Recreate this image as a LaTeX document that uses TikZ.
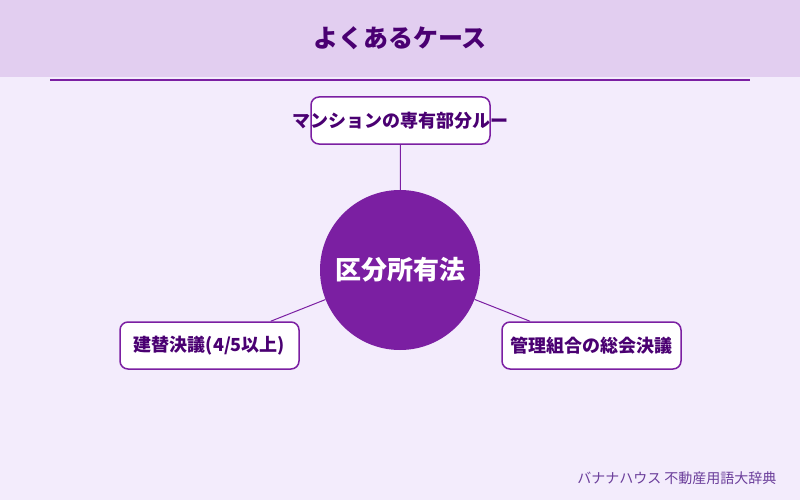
\documentclass[tikz,border=0pt]{standalone}
\usepackage{fontspec}
\newfontfamily\jp{Noto Sans CJK JP}
\definecolor{bgc}{HTML}{F3ECFC}
\definecolor{headc}{HTML}{E2CEF0}
\definecolor{mainp}{HTML}{7B1FA2}
\definecolor{darkp}{HTML}{4A0072}
\definecolor{footc}{HTML}{6A3D9A}
\tikzset{
  leaf/.style={draw=mainp, line width=1.5pt, fill=white, rounded corners=8pt,
    minimum width=179pt, minimum height=47pt, inner sep=0pt},
  leaftext/.style={inner sep=0pt, font=\jp\bfseries\fontsize{18}{20}\selectfont, text=darkp},
  hub/.style={circle, fill=mainp, minimum size=160pt, inner sep=0pt,
    font=\jp\bfseries\fontsize{26}{28}\selectfont, text=white},
  link/.style={draw=mainp, line width=1pt}
}
\begin{document}
\begin{tikzpicture}[x=1pt,y=-1pt]
\useasboundingbox (0,0) rectangle (800,500);
\fill[bgc] (0,0) rectangle (800,500);
\fill[headc] (0,0) rectangle (800,77);
\node[font=\jp\bfseries\fontsize{25}{28}\selectfont, text=darkp] (title) at (400,38) {よくあるケース};
\draw[mainp, line width=2pt] (50,80) -- (750,80);
\node[hub] (hub) at (400,270) {区分所有法};
\node[leaf] (top) at (400.5,120.5) {};
\node[leaf] (left) at (209.5,345.5) {};
\node[leaf] (right) at (591.5,345.5) {};
\node[leaftext] (toptext) at (top) {マンションの専有部分ルー};
\node[leaftext] (lefttext) at (left) {建替決議(4/5以上)};
\node[leaftext] (righttext) at (right) {管理組合の総会決議};
\draw[link] (hub) -- (top);
\draw[link] (hub) -- (left);
\draw[link] (hub) -- (right);
\node[anchor=east, font=\jp\fontsize{14}{16}\selectfont, text=footc] (foot) at (780,478) {バナナハウス 不動産用語大辞典};
\end{tikzpicture}
\end{document}
